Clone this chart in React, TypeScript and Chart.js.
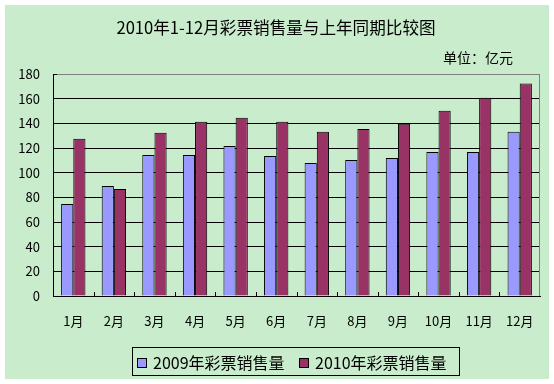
import React, { useEffect, useRef } from "react";
import { Chart, registerables } from "chart.js";

Chart.register(...registerables);

const chartTitle = "2010年1-12月彩票销售量与上年同期比较图";
const unitLabel = "单位：亿元";
const months = ["1月", "2月", "3月", "4月", "5月", "6月", "7月", "8月", "9月", "10月", "11月", "12月"];
const sales2009 = [74.6, 89.2, 114.4, 114.4, 121.7, 113.6, 107.9, 110.3, 111.9, 116.8, 116.8, 133.1];
const sales2010 = [127.4, 86.7, 132.3, 141.2, 144.5, 141.2, 133.1, 135.5, 139.6, 150.2, 160.8, 172.2];
const seriesNames = ["2009年彩票销售量", "2010年彩票销售量"];
const seriesColors = ["#9999FF", "#993366"];
const yMin = 0;
const yMax = 180;
const yStep = 20;

const FONT = "'Noto Sans CJK SC', 'Noto Sans', sans-serif";
const BG = "#C9ECCC";

const decorPlugin = {
  id: "decor",
  beforeDraw(chart: any) {
    const ctx = chart.ctx;
    ctx.save();
    ctx.fillStyle = "#FFFFFF";
    ctx.fillRect(0, 0, chart.width, chart.height);
    ctx.fillStyle = BG;
    ctx.fillRect(5, 5, 544, 374);
    ctx.restore();
  },
  afterDraw(chart: any) {
    const ctx = chart.ctx;
    const a = chart.chartArea;
    ctx.save();
    // right border of plot area
    ctx.strokeStyle = "#808080";
    ctx.lineWidth = 1;
    ctx.beginPath();
    ctx.moveTo(Math.round(a.right) - 0.5, Math.round(a.top) + 0.5);
    ctx.lineTo(Math.round(a.right) - 0.5, Math.round(a.bottom));
    ctx.stroke();
    // inner tick marks on category axis
    const n = chart.data.labels.length;
    const cw = (a.right - a.left) / n;
    ctx.strokeStyle = "#000000";
    ctx.beginPath();
    for (let k = 1; k < n; k++) {
      const x = Math.round(a.left + k * cw) + 0.5;
      ctx.moveTo(x, Math.round(a.bottom));
      ctx.lineTo(x, Math.round(a.bottom) - 4);
    }
    // inner tick at top of y axis
    ctx.moveTo(Math.round(a.left), Math.round(a.top) + 0.5);
    ctx.lineTo(Math.round(a.left) + 4, Math.round(a.top) + 0.5);
    ctx.stroke();

    // title
    ctx.fillStyle = "#000000";
    ctx.font = "16.6px " + FONT;
    ctx.textAlign = "center";
    ctx.textBaseline = "middle";
    ctx.fillText(chartTitle, 276, 28);
    // unit
    ctx.font = "14px " + FONT;
    ctx.textAlign = "right";
    ctx.fillText(unitLabel, 513, 58);

    // legend
    ctx.strokeStyle = "#000000";
    ctx.strokeRect(132.5, 347.5, 327, 28);
    const starts = [137, 299];
    chart.data.datasets.forEach((ds: any, i: number) => {
      const x0 = starts[i];
      ctx.fillStyle = ds.backgroundColor;
      ctx.fillRect(x0, 358, 10, 10);
      ctx.strokeRect(x0 + 0.5, 358.5, 9, 9);
      ctx.fillStyle = "#000000";
      ctx.font = "16px " + FONT;
      ctx.textAlign = "left";
      ctx.textBaseline = "middle";
      ctx.fillText(ds.label, x0 + 16, 363);
    });
    ctx.restore();
  },
};

export default function App() {
  const ref = useRef<HTMLCanvasElement | null>(null);
  useEffect(() => {
    if (!ref.current) return;
    const chart = new Chart(ref.current, {
      type: "bar",
      data: {
        labels: months,
        datasets: [
          {
            label: seriesNames[0],
            data: sales2009,
            backgroundColor: seriesColors[0],
            borderColor: "#000000",
            borderWidth: 1,
            categoryPercentage: 0.6,
            barPercentage: 1.0,
          },
          {
            label: seriesNames[1],
            data: sales2010,
            backgroundColor: seriesColors[1],
            borderColor: "#000000",
            borderWidth: 1,
            categoryPercentage: 0.6,
            barPercentage: 1.0,
          },
        ],
      },
      options: {
        responsive: false,
        animation: false,
        devicePixelRatio: 1,
        layout: { padding: { left: 5, top: 74, right: 14, bottom: 0 }, autoPadding: false },
        plugins: {
          legend: { display: false },
          title: { display: false },
          tooltip: { enabled: false },
        },
        scales: {
          x: {
            grid: { display: false, drawTicks: false },
            border: { display: true, color: "#000000", width: 1 },
            ticks: {
              color: "#000000",
              font: { family: FONT, size: 13 },
              padding: 17,
              maxRotation: 0,
              autoSkip: false,
            },
            afterFit: (s: any) => {
              s.height = 88;
            },
          },
          y: {
            min: yMin,
            max: yMax,
            grid: {
              drawTicks: false,
              color: (c: any) => (c.tick && c.tick.value === yMax ? "#808080" : "#000000"),
              lineWidth: 1,
            },
            border: { display: true, color: "#000000", width: 1 },
            ticks: {
              stepSize: yStep,
              color: "#000000",
              font: { family: FONT, size: 13 },
              padding: 13,
            },
            afterFit: (s: any) => {
              s.width = 48;
            },
          },
        },
      },
      plugins: [decorPlugin],
    });
    return () => chart.destroy();
  }, []);
  return (
    <div style={{ position: "absolute", left: 0, top: 0, width: 554, height: 384 }}>
      <canvas ref={ref} width={554} height={384} style={{ display: "block" }} />
    </div>
  );
}
